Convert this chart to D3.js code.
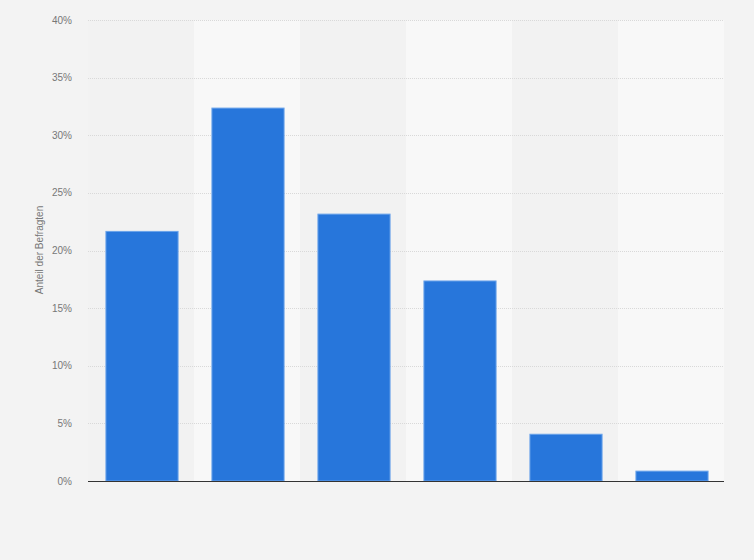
<!DOCTYPE html>
<html>
<head>
<meta charset="utf-8">
<script src="https://cdn.jsdelivr.net/npm/d3@7"></script>
<style>
	html, body { margin: 0; padding: 0; background: #f3f3f3; }
	svg { display: block; font-family: "Liberation Sans", Arial, sans-serif; }
	.grid line { stroke: #d9d9d9; stroke-dasharray: 1,1; }
	.tick-label { fill: #777; font-size: 10px; }
</style>
</head>
<body>
<svg id="chart" width="754" height="560"></svg>
<script>
// Survey shares, categories unlabelled in the source
var categories = ['1', '2', '3', '4', '5', '6'];
var values = [21.7, 32.4, 23.2, 17.4, 4.1, 0.9];
var yTicks = [0, 5, 10, 15, 20, 25, 30, 35, 40];
var yTitle = 'Anteil der Befragten';

var svg = d3.select('#chart');
var margin = {left: 88, right: 30, top: 20, bottom: 79};
var width = 754 - margin.left - margin.right,
	height = 560 - margin.top - margin.bottom;

var x = d3.scaleBand()
	.domain(categories)
	.range([1, width + 1])
	.paddingInner(0.31)
	.paddingOuter(0.155);

var bands = d3.scaleBand()
	.domain(categories)
	.range([0, width]);

var y = d3.scaleLinear()
	.domain([0, 40])
	.range([height, 0]);

var root = svg.append('g')
	.attr('transform', 'translate(' + margin.left + ',' + margin.top + ')');

// alternating column shading
root.append('g').selectAll('rect')
	.data(categories)
	.join('rect')
	.attr('x', function(d) { return bands(d); })
	.attr('y', 0)
	.attr('width', bands.bandwidth())
	.attr('height', height)
	.attr('fill', function(d, i) { return i % 2 ? '#f8f8f8' : '#f2f2f2'; });

// gridlines
root.append('g').attr('class', 'grid')
	.selectAll('line')
	.data(yTicks.filter(function(t) { return t > 0; }))
	.join('line')
	.attr('x1', 0)
	.attr('x2', width)
	.attr('y1', function(d) { return Math.round(y(d)) + 0.5; })
	.attr('y2', function(d) { return Math.round(y(d)) + 0.5; });

// y tick labels
root.append('g')
	.selectAll('text')
	.data(yTicks)
	.join('text')
	.attr('class', 'tick-label')
	.attr('x', -16)
	.attr('y', function(d) { return y(d); })
	.attr('dy', '0.35em')
	.attr('text-anchor', 'end')
	.text(function(d) { return d + '%'; });

// bars
root.append('g')
	.selectAll('rect')
	.data(values)
	.join('rect')
	.attr('x', function(d, i) { return x(categories[i]) + 0.5; })
	.attr('y', function(d) { return y(d) + 0.5; })
	.attr('width', x.bandwidth() - 1)
	.attr('height', function(d) { return height - y(d) - 0.5; })
	.attr('fill', '#2776db')
	.attr('stroke', '#6aa3ea')
	.attr('stroke-width', 1);

// baseline
root.append('line')
	.attr('x1', 0)
	.attr('x2', width)
	.attr('y1', height + 0.5)
	.attr('y2', height + 0.5)
	.attr('stroke', '#333')
	.attr('stroke-width', 1.2);

// axis title
svg.append('text')
	.attr('class', 'tick-label')
	.attr('transform', 'translate(43,' + (margin.top + 230) + ') rotate(-90)')
	.attr('text-anchor', 'middle')
	.text(yTitle);
</script>
</body>
</html>
